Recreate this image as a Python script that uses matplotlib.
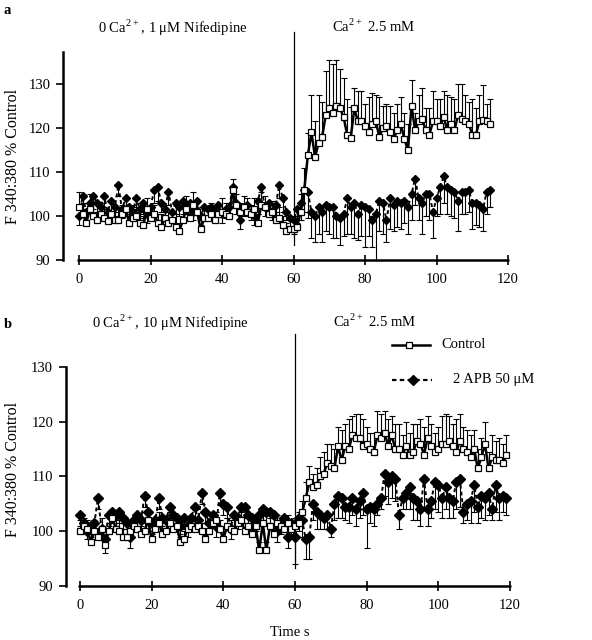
import matplotlib
matplotlib.use("Agg")
import matplotlib.pyplot as plt
from matplotlib.lines import Line2D
import numpy as np

plt.rcParams['font.family'] = ['Liberation Serif', 'DejaVu Serif']
plt.rcParams['mathtext.fontset'] = 'custom'
plt.rcParams['mathtext.rm'] = 'Liberation Serif'

# ---------------- Panel a data ----------------
time_a = list(range(0, 116))
ctrl_a = [102, 100.5, 98.5, 101.5, 100, 99, 100.5, 99.5, 98.8, 100.5,
          99, 99, 100.5, 101.5, 98.5, 99.5, 100, 98.5, 98, 101.5,
          99.5, 100.5, 98.5, 97.5, 99.5, 98.5, 99, 97.5, 96.5, 99,
          101.5, 99.5, 102.5, 101, 97, 99.5, 99.5, 100.5, 99, 100.5,
          101, 100.5, 100, 106, 102.5, 101, 102, 101, 100.5, 101.5,
          98.5, 102.5, 102, 100.5, 101, 99, 99.5, 98, 96.5, 97,
          97.1, 97.5, 101, 106, 113.8, 119, 113.5, 116.5, 118, 123,
          124.5, 123.5, 125, 124.5, 122.5, 118.5, 117.8, 124.5, 121.5, 121.5,
          120.5, 119, 121, 121.5, 118, 120, 120.5, 119, 117.5, 119.5,
          121, 117.5, 115, 125, 119.5, 121.5, 122, 119.5, 118.5, 121.5,
          121.5, 120.5, 122.5, 119.5, 121, 119.5, 123, 122, 121.5, 121,
          118.5, 118.5, 121.5, 121.8, 121.5, 121]
ctrl_a_err = [3.5, 2.5, 2.5, 3.5, 3, 2, 2.5, 2, 2, 3,
              2, 2.5, 2, 2.5, 2, 3, 2, 2.5, 2, 2.5,
              3, 2, 2, 3, 2, 2.5, 2, 3, 2, 2.5,
              3, 3, 3, 2.5, 2, 2.5, 2, 2.5, 2, 2,
              3, 2.5, 2, 2.5, 2.5, 2, 2.5, 3, 2, 2.5,
              2, 3, 2.5, 2, 2.5, 2, 2.5, 2, 2, 2.5,
              3, 2.5, 4, 5, 5, 8.5, 8, 11, 8, 10,
              11, 11, 10.5, 9, 9, 8, 7, 4.5, 7, 7,
              5, 8, 7, 6, 9, 5, 5, 6, 6, 6,
              6, 6, 6, 6, 4, 6, 7, 5, 6, 7,
              5, 6, 6, 8, 6, 7, 7, 8, 6, 5,
              8, 6, 6, 8, 4, 5.5]
apb_a = [100, 104.5, 101, 103, 104.5, 103, 102, 104.5, 101, 103.5,
         102, 107, 101.5, 104, 102, 101, 104, 101.5, 103, 100.5,
         102, 106, 106.5, 103, 101.5, 105.5, 101, 103, 102, 103.5,
         102.5, 103, 101, 103.5, 100, 102, 101.5, 102, 101, 102.5,
         100.5, 101.5, 102, 106.5, 103, 99, 102, 102.5, 101, 100,
         103.5, 106.5, 102, 103, 101, 102.5, 107, 104, 101, 99.5,
         99, 101.5, 103, 106, 105.5, 101, 100, 102, 101, 102.5,
         102, 102, 100, 99.5, 100.5, 104, 102, 103, 100.5, 102.5,
         102, 101.5, 99, 100.5, 103.5, 103, 99, 104, 102.5, 103.5,
         103, 103.5, 102, 105, 108.5, 104, 103, 105, 105, 101,
         104, 106.5, 109, 106.5, 106, 105.5, 103.5, 105.5, 105.5, 106,
         103, 103, 102.5, 101.5, 105.5, 106]
apb_a_err = [2, 3, 2, 2.5, 3, 2, 2, 3, 2, 2.5,
             2, 2.5, 2, 3, 2, 2, 2.5, 2, 2.5, 2,
             2, 3, 3, 2, 2, 3, 2, 2.5, 2, 3,
             2, 2.5, 2, 3, 2, 2.5, 2, 2, 2, 2.5,
             2, 2, 2, 3, 2.5, 2, 2, 2.5, 2, 2,
             3, 3.5, 2, 2.5, 2, 2.5, 3, 3, 2, 2.5,
             3, 3, 4, 5, 6, 6, 6, 6, 7, 6,
             6, 7, 5, 6, 5, 8, 6, 8, 6, 7,
             9, 6, 6, 12, 7, 7, 5, 7, 6, 6,
             6, 5, 6, 6, 6, 5, 7, 5, 6, 6,
             4, 6, 6, 6, 6, 6, 7, 5, 5, 5,
             6, 5, 5, 5, 5, 4]

# ---------------- Panel b data ----------------
time_b = list(range(0, 120))
ctrl_b = [100, 101, 100.5, 98, 100, 99, 100.5, 97.5, 100, 102.5,
          100.5, 100, 99, 99, 100, 101, 100.5, 99.5, 100, 102,
          98.5, 100.5, 101.5, 99.5, 100, 101.5, 100.5, 101, 98, 98.5,
          100.5, 101, 100.5, 101, 100, 98.5, 100, 101.5, 102, 100.5,
          98.5, 101, 100.5, 100, 101.5, 102, 100, 101, 99.5, 101,
          96.5, 101.5, 96.5, 101, 99.5, 101.5, 101, 100.5, 101.5, 100.5,
          101, 101.5, 103.5, 106, 109, 108, 108.5, 110, 110.5, 112.5,
          112, 111.5, 115.5, 113, 115.5, 115, 117.5, 117, 117, 115.5,
          116, 115, 114.5, 117.5, 117, 118, 115.5, 117.5, 115, 115,
          114, 115.5, 114, 114.5, 116.5, 116, 114, 117, 115.5, 114.5,
          115, 116, 116, 116.5, 115.5, 114.5, 116.5, 115, 114.5, 113.5,
          115, 111.5, 113.5, 116, 111.5, 113.5, 113, 113, 112.5, 114]
ctrl_b_err = [2, 1.5, 1.5, 1.5, 2, 1.5, 2, 1.5, 1.5, 1.5,
              1.5, 1.5, 1.5, 1.5, 2, 1.5, 2.5, 1.5, 1.5, 1.5,
              1.5, 1.5, 2, 1.5, 1.5, 2, 1.5, 1.5, 1.5, 1.5,
              1.5, 1.5, 1.5, 1.5, 1.5, 1.5, 1.5, 2, 1.5, 1.5,
              1.5, 1.5, 1.5, 2, 1.5, 1.5, 1.5, 1.5, 1.5, 1.5,
              1.5, 1.5, 1.5, 1.5, 1.5, 1.5, 1.5, 1.5, 1.5, 1.5,
              1.5, 2, 2, 3, 3, 2.5, 3, 3.5, 4, 3.5,
              4, 3.5, 3.5, 5.5, 4, 5.5, 3.5, 4.5, 4.5, 5,
              3, 3, 3.5, 4.5, 4.5, 4, 5, 3.5, 4.5, 4.5,
              3.5, 4.5, 4, 5, 3, 4.5, 5, 4, 4, 3.5,
              4, 5, 5.5, 4.5, 4, 6, 5, 4, 4, 4,
              3.5, 3.5, 3.5, 4, 3, 4, 3.5, 4, 3.5, 3.5]
apb_b = [103, 101.5, 100, 101, 101.5, 106, 100.5, 98.5, 103, 103.5,
         103, 103.5, 102.5, 101.5, 99, 102, 103, 102, 106.5, 103.5,
         101.5, 102, 106, 102.5, 102, 104.5, 103, 102.5, 101, 102.5,
         101, 102.5, 104.5, 102, 107, 103.5, 101.5, 103, 101, 107,
         105, 104.5, 100.5, 103, 102.5, 104.5, 104.5, 103, 102.5, 102,
         103, 104, 103.5, 103.5, 103, 100, 101.5, 102.5, 99, 101.5,
         99, 102.5, 102, 98.5, 99, 105, 103.5, 103, 102.5, 103,
         100.5, 105, 106.5, 106, 104.5, 104.5, 106, 104, 105.5, 107,
         104, 104.5, 104, 105, 106, 110.5, 109, 110, 109.5, 103,
         106, 107, 108, 106, 105.5, 104, 109.5, 104, 105.5, 109,
         108.5, 106, 108, 106, 105.5, 109, 109.5, 103.5, 105, 105.5,
         108.5, 104.5, 106.5, 106, 107, 104, 108.5, 106, 106.5, 106]
apb_b_err = [2, 2, 1.5, 2, 2, 2, 2, 2.5, 2, 2,
             2, 2, 2, 2, 2, 2, 2, 2, 2, 2,
             2, 2, 2, 2, 2, 2, 2, 2, 2, 2,
             2, 2, 2, 2, 2, 2, 2, 2, 2, 2,
             2, 2, 2, 2, 2, 2, 2, 2, 2, 2,
             2, 2, 2, 2, 2, 2, 2, 2, 2, 2,
             5, 2.5, 3, 3.5, 4, 3, 3, 2.5, 2, 2.5,
             1.5, 3, 4, 3.5, 2.5, 3, 3, 3, 3, 4,
             7, 3, 3, 2, 2, 4, 4, 4, 4, 2.5,
             2, 3, 4, 4, 3.5, 3, 5, 3, 3, 5,
             5, 3.5, 4, 3.5, 3, 5, 5, 2, 3, 4,
             5, 3, 4, 4, 4, 2, 5, 4, 3, 3]

legend_labels = ['Control', '2 APB 50 μM']

FS = 10.5
fig = plt.figure(figsize=(5.92, 6.4), dpi=100)


def px(x, y):
    return x / 592.0, 1 - y / 640.0


def draw_panel(ax, t, c, ce, a, ae, ylim, xlim, vline, dsize, ssize):
    ax.errorbar(t, a, yerr=[ae, [0] * len(ae)], fmt='none', ecolor='black',
                elinewidth=0.8, capsize=2.5, capthick=0.8, zorder=2)
    ax.plot(t, a, linestyle=(0, (2, 1.5)), color='black', linewidth=1.4,
            marker='D', markersize=dsize, markerfacecolor='black',
            markeredgecolor='black', zorder=3)
    ax.errorbar(t, c, yerr=[[0] * len(ce), ce], fmt='none', ecolor='black',
                elinewidth=0.8, capsize=2.5, capthick=0.8, zorder=4)
    ax.plot(t, c, linestyle='-', color='black', linewidth=1.8, marker='s',
            markersize=ssize, markerfacecolor='white',
            markeredgecolor='black', markeredgewidth=0.9, zorder=5)
    ax.set_xlim(*xlim)
    ax.set_ylim(*ylim)
    for s in ['top', 'right', 'bottom']:
        ax.spines[s].set_visible(False)
    ax.spines['left'].set_linewidth(1.8)
    ax.plot([-0.6, 120.4], [90, 90], color='black', linewidth=1.8,
            clip_on=False, zorder=6, solid_capstyle='butt')
    ax.set_xticks([0, 20, 40, 60, 80, 100, 120])
    ax.set_yticks([90, 100, 110, 120, 130])
    ax.tick_params(axis='x', direction='inout', length=7, width=1.2,
                   labelsize=FS, pad=6)
    ax.tick_params(axis='y', direction='out', length=5, width=1.2,
                   labelsize=FS, pad=4)
    ax.plot([60, 60], vline, color='black', linewidth=0.9, clip_on=False,
            zorder=1)
    ax.set_ylabel('F 340:380 % Control', fontsize=11.5)


# Panel a
l, b = px(63, 260)
ax_a = fig.add_axes([l, b, (511.6 - 63) / 592, (260 - 52) / 640])
draw_panel(ax_a, time_a, ctrl_a, ctrl_a_err, apb_a, apb_a_err,
           (90, 137.3), (-4.5, 121), (93.4, 141.8), 4.2, 4)
ax_a.yaxis.set_label_coords((21 - 63) / 448.6, 0.5)

# Panel b
l, b = px(65.7, 586)
ax_b = fig.add_axes([l, b, (513.6 - 65.7) / 592, (586 - 367) / 640])
draw_panel(ax_b, time_b, ctrl_b, ctrl_b_err, apb_b, apb_b_err,
           (90, 130), (-4, 121), (93.3, 136), 5.5, 4.5)
ax_b.yaxis.set_label_coords((21 - 65.7) / 447.9, 0.53)

fig.text(*px(290, 632), 'Time s', fontsize=FS, ha='center', va='center')

# Annotations
fig.text(*px(4, 10), 'a', fontsize=FS, fontweight='bold', va='center')
fig.text(*px(4, 324), 'b', fontsize=FS, fontweight='bold', va='center')
fig.text(*px(173, 28), r'0 Ca$^{2+}$, 1 μM Nifedipine', fontsize=FS,
         ha='center', va='center')
fig.text(*px(374, 26), r'Ca$^{2+}$ 2.5 mM', fontsize=FS, ha='center',
         va='center')
fig.text(*px(170, 323), r'0 Ca$^{2+}$, 10 μM Nifedipine', fontsize=FS,
         ha='center', va='center')
fig.text(*px(375, 321), r'Ca$^{2+}$ 2.5 mM', fontsize=FS, ha='center',
         va='center')

# Legend (drawn manually to match the original placement)
x0, y0 = px(392, 345)
x1, _ = px(430, 345)
xm, _ = px(409, 345)
fig.add_artist(Line2D([x0, x1], [y0, y0], transform=fig.transFigure,
                      color='black', linewidth=1.8))
fig.add_artist(Line2D([xm], [y0], transform=fig.transFigure, linestyle='none',
                      marker='s', markersize=4.5, markerfacecolor='white',
                      markeredgecolor='black', markeredgewidth=0.9))
fig.text(*px(441, 345), legend_labels[0], fontsize=FS, va='center')

x0, y1 = px(392, 380)
x1, _ = px(432, 380)
xm, _ = px(413, 380)
fig.add_artist(Line2D([x0, x1], [y1, y1], transform=fig.transFigure,
                      color='black', linewidth=1.6,
                      linestyle=(0, (2, 1.5))))
fig.add_artist(Line2D([xm], [y1], transform=fig.transFigure, linestyle='none',
                      marker='D', markersize=5.5, markerfacecolor='black',
                      markeredgecolor='black'))
fig.text(*px(453, 380), legend_labels[1], fontsize=FS, va='center')

fig.savefig('out.png', dpi=100)
